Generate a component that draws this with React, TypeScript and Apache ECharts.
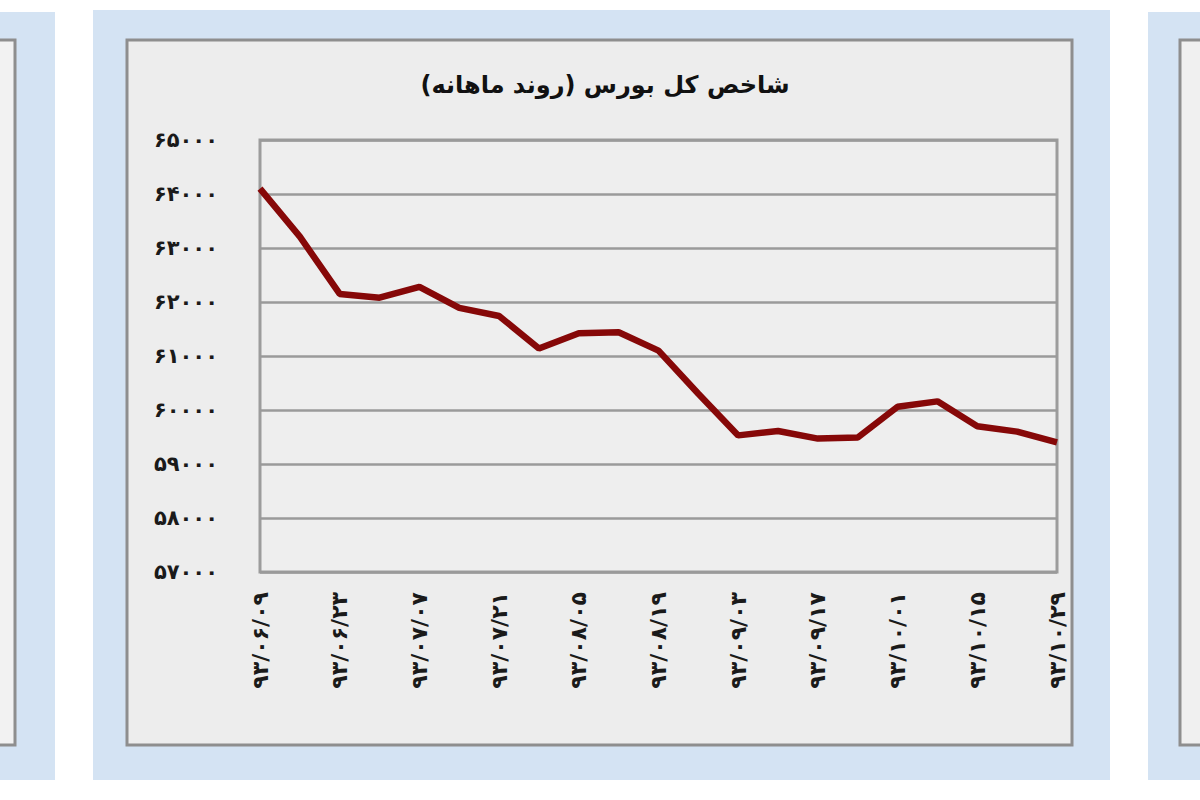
import React, { useEffect, useRef } from "react";
import * as echarts from "echarts";

const TITLE = "شاخص کل بورس (روند ماهانه)\u200F";

const categories: string[] = [
  "۹۳/۰۶/۰۹", "۹۳/۰۶/۱۶", "۹۳/۰۶/۲۳", "۹۳/۰۶/۳۰", "۹۳/۰۷/۰۷",
  "۹۳/۰۷/۱۴", "۹۳/۰۷/۲۱", "۹۳/۰۷/۲۸", "۹۳/۰۸/۰۵", "۹۳/۰۸/۱۲",
  "۹۳/۰۸/۱۹", "۹۳/۰۸/۲۶", "۹۳/۰۹/۰۳", "۹۳/۰۹/۱۰", "۹۳/۰۹/۱۷",
  "۹۳/۰۹/۲۴", "۹۳/۱۰/۰۱", "۹۳/۱۰/۰۸", "۹۳/۱۰/۱۵", "۹۳/۱۰/۲۲",
  "۹۳/۱۰/۲۹",
];

const indexValues: number[] = [
  64100, 63210, 62150, 62080, 62280, 61890, 61740, 61140, 61420, 61440,
  61100, 60300, 59530, 59610, 59470, 59490, 60060, 60160, 59700, 59600,
  59400,
];

const yMin = 57000;
const yMax = 65000;
const yStep = 1000;

const FA_DIGITS = "۰۱۲۳۴۵۶۷۸۹";
const toFa = (s: string) => s.replace(/\d/g, (d) => FA_DIGITS[Number(d)]);

const BLUE = "#d4e3f3";
const BOX_BG = "#ededed";
const BOX_BORDER = "#8e8e8e";
const FONT = "DejaVu Sans";

export default function App() {
  const ref = useRef<HTMLDivElement>(null);

  useEffect(() => {
    if (!ref.current) return;
    const chart = echarts.init(ref.current, undefined, { renderer: "svg" });
    chart.setOption({
      animation: false,
      backgroundColor: "#ffffff",
      graphic: [
        { type: "rect", z: -10, silent: true, shape: { x: -10, y: 12, width: 65, height: 768 }, style: { fill: BLUE } },
        { type: "rect", z: -9, silent: true, shape: { x: -10, y: 40, width: 25, height: 705 }, style: { fill: "#f2f2f2", stroke: BOX_BORDER, lineWidth: 3 } },
        { type: "rect", z: -10, silent: true, shape: { x: 93, y: 10, width: 1017, height: 770 }, style: { fill: BLUE } },
        { type: "rect", z: -9, silent: true, shape: { x: 127, y: 40, width: 945, height: 705 }, style: { fill: BOX_BG, stroke: BOX_BORDER, lineWidth: 3 } },
        { type: "rect", z: -10, silent: true, shape: { x: 1148, y: 12, width: 70, height: 768 }, style: { fill: BLUE } },
        { type: "rect", z: -9, silent: true, shape: { x: 1180, y: 40, width: 40, height: 705 }, style: { fill: "#f0f0f0", stroke: BOX_BORDER, lineWidth: 3 } },
      ],
      title: {
        text: TITLE,
        left: 600,
        top: 68,
        textAlign: "center",
        textStyle: { fontFamily: FONT, fontSize: 24, fontWeight: "bold", color: "#111111" },
      },
      grid: {
        left: 260,
        right: 143,
        top: 140,
        bottom: 228,
        show: true,
        backgroundColor: "#eeeeee",
        borderColor: "#9c9c9c",
        borderWidth: 3,
      },
      xAxis: {
        type: "category",
        data: categories,
        boundaryGap: false,
        axisLine: { show: false },
        axisTick: { show: false },
        splitLine: { show: false },
        axisLabel: {
          interval: 1,
          rotate: 90,
          margin: 20,
          fontFamily: FONT,
          fontSize: 22,
          fontWeight: "bold",
          color: "#1a1a1a",
        },
      },
      yAxis: {
        type: "value",
        min: yMin,
        max: yMax,
        interval: yStep,
        axisLine: { show: false },
        axisTick: { show: false },
        splitLine: { show: true, lineStyle: { color: "#9a9a9a", width: 2.5 } },
        axisLabel: {
          margin: 42,
          fontFamily: FONT,
          fontSize: 21,
          fontWeight: "bold",
          color: "#1a1a1a",
          formatter: (v: number) => toFa(String(v)),
        },
      },
      series: [
        {
          type: "line",
          data: indexValues,
          showSymbol: false,
          symbol: "none",
          lineStyle: { color: "#860808", width: 6.5 },
          z: 5,
        },
      ],
    });
    return () => chart.dispose();
  }, []);

  return (
    <div
      ref={ref}
      style={{ position: "fixed", left: 0, top: 0, width: 1200, height: 800 }}
    />
  );
}
